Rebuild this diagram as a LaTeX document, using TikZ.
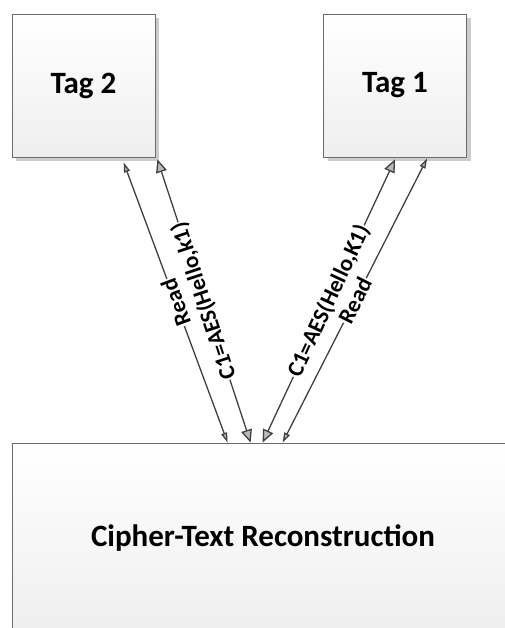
\documentclass[tikz,border=0pt]{standalone}
\usepackage{fontspec}
\setmainfont{Carlito}
\usetikzlibrary{arrows.meta,shadows}

\tikzset{
  tagbox/.style={draw=gray!85!black, line width=0.8pt,
    top color=white, bottom color=gray!13,
    minimum width=143pt, minimum height=143pt,
    drop shadow={shadow xshift=4pt, shadow yshift=-4pt, fill=gray!40, opacity=1},
    font=\fontsize{31}{36}\selectfont\bfseries},
  recbox/.style={draw=gray!85!black, line width=0.8pt,
    top color=white, bottom color=gray!13,
    minimum width=502pt, minimum height=190pt,
    font=\fontsize{31}{36}\selectfont\bfseries},
  link/.style={draw=black!75, line width=1.3pt},
  readtips/.style={{Triangle[length=10pt,width=6pt,fill=gray!55]}-{Triangle[length=10pt,width=6pt,fill=gray!55]}},
  ciphertips/.style={{Triangle[length=13pt,width=11pt,fill=gray!55]}-{Triangle[length=13pt,width=11pt,fill=gray!55]}},
  linklabel/.style={fill=white, inner sep=1pt, sloped, allow upside down,
    font=\fontsize{23}{26}\selectfont\bfseries}
}

\begin{document}
\begin{tikzpicture}[x=1pt,y=-1pt]
  \useasboundingbox (0,0) rectangle (505,628);

  \node[tagbox] (tag2) at (83.5,85.5) {Tag 2};
  \node[tagbox] (tag1) at (395,85.5) {Tag 1};
  \node[recbox] (recon) at (263,538) {Cipher-Text Reconstruction};

  % bottom shift / top anchor / top shifts / label / tips
  \def \Links {
    216/tag2.south west/112/-5/Read/readtips,
    239/tag2.south east/2/-2/{C1=AES(Hello,k1)}/ciphertips,
    251/tag1.south/0/-2/{C1=AES(Hello,K1)}/ciphertips,
    271/tag1.south west/104/-1/Read/readtips}

  \foreach \bx / \top / \tx / \ty / \txt / \tips in \Links {
    \draw[link,\tips] ([xshift=\bx pt]recon.north west)
      -- ([xshift=\tx pt,yshift=\ty pt]\top) node[midway,linklabel] {\txt};
  }
\end{tikzpicture}
\end{document}
